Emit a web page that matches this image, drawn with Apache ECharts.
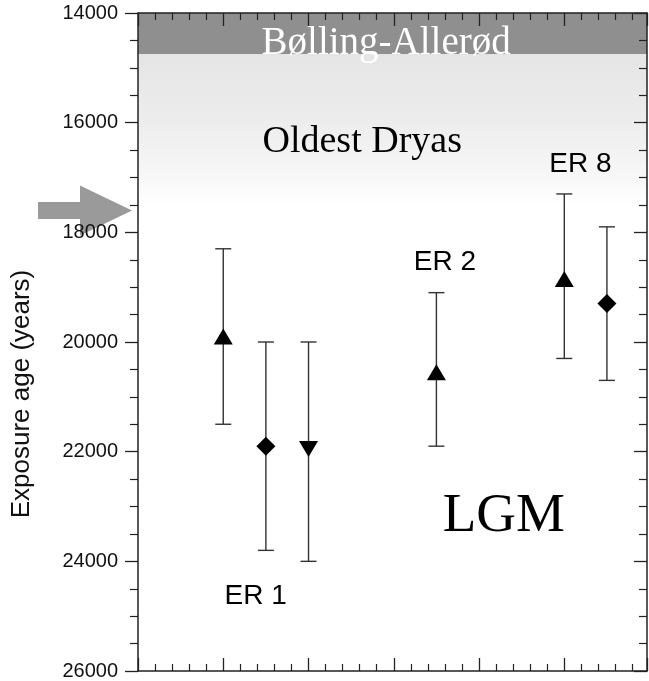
<!DOCTYPE html>
<html>
<head>
<meta charset="utf-8">
<script src="https://cdn.jsdelivr.net/npm/echarts@6/dist/echarts.min.js"></script>
<style>
html,body{margin:0;padding:0;background:#fff;}
#chart{width:649px;height:681px;}
</style>
</head>
<body>
<div id="chart"></div>
<script>
// ---- data ----
const sampleX = [1, 1.5, 2, 3.5, 5, 5.5];
const exposureAge = [19900, 21900, 21950, 20550, 18850, 19300];
const ageYoung = [18300, 20000, 20000, 19100, 17300, 17900];
const ageOld = [21500, 23800, 24000, 21900, 20300, 20700];
const markerShape = ['triangle', 'diamond', 'triangleDown', 'triangle', 'triangle', 'diamond'];

const groupLabels = ['ER 1', 'ER 2', 'ER 8'];
const groupLabelX = [1.38, 3.6, 5.19];
const groupLabelAge = [24630, 18540, 16754];

const periodLabels = ['Bølling-Allerød', 'Oldest Dryas', 'LGM'];
const periodLabelX = [2.91, 2.63, 4.29];
const periodLabelAge = [14560, 16350, 23180];

const bollingAllerod = [14000, 14750];
const oldestDryas = [14750, 17500];
const arrowAge = 17600;

const yTicks = [14000, 16000, 18000, 20000, 22000, 24000, 26000];

// ---- chart ----
const chart = echarts.init(document.getElementById('chart'), null, {renderer: 'canvas'});

const axisLine = {show: true, onZero: false, lineStyle: {color: '#222', width: 1.5}};
const xCommon = {
  type: 'value', min: 0, max: 5.97, interval: 1, z: 10,
  axisLine: axisLine,
  axisTick: {show: true, inside: true, length: 13, lineStyle: {color: '#222', width: 1.3}},
  minorTick: {show: true, splitNumber: 5, length: 7, lineStyle: {color: '#222', width: 1.2}},
  axisLabel: {show: false}, splitLine: {show: false}
};
function yAxisDef(position, showLabel, tickInside) {
  return {
    type: 'value', position: position, inverse: true,
    min: yTicks[0], max: yTicks[yTicks.length - 1], interval: 2000, z: 10,
    axisLine: axisLine,
    axisTick: {show: true, inside: tickInside, length: 13, lineStyle: {color: '#222', width: 1.3}},
    minorTick: {show: true, splitNumber: 4, length: 8, lineStyle: {color: '#222', width: 1.2}},
    splitLine: {show: false},
    axisLabel: {show: showLabel, margin: 20, fontSize: 20, color: '#111',
      fontFamily: 'Liberation Sans, Arial, sans-serif',
      formatter: function (v) { return String(v); }}
  };
}

const markers = sampleX.map((x, i) => {
  const s = markerShape[i];
  return {
    value: [x, exposureAge[i]],
    symbol: s === 'triangleDown' ? 'triangle' : s,
    symbolRotate: s === 'triangleDown' ? 180 : 0,
    symbolSize: s === 'diamond' ? [19, 19] : [19, 16]
  };
});

const option = {
  animation: false,
  backgroundColor: '#fff',
  grid: {left: 138, right: 2, top: 13, bottom: 10, containLabel: false},
  xAxis: [
    Object.assign({position: 'bottom'}, xCommon),
    Object.assign({position: 'top'}, xCommon)
  ],
  yAxis: [yAxisDef('left', true, false), yAxisDef('right', false, true)],
  series: [
    {
      type: 'line', data: [], z: 1, silent: true,
      markArea: {
        silent: true,
        data: [
          [{yAxis: bollingAllerod[0], itemStyle: {color: '#8f8f8f', opacity: 1}}, {yAxis: bollingAllerod[1]}],
          [{yAxis: oldestDryas[0], itemStyle: {opacity: 1, color: new echarts.graphic.LinearGradient(0, 0, 0, 1, [
            {offset: 0, color: '#e5e5e5'}, {offset: 0.45, color: '#ededed'}, {offset: 0.8, color: '#f7f7f7'}, {offset: 1, color: '#ffffff'}])}},
           {yAxis: oldestDryas[1]}]
        ]
      }
    },
    {
      type: 'custom', z: 2, silent: true,
      data: sampleX.map((x, i) => [x, ageYoung[i], ageOld[i]]),
      renderItem: function (params, api) {
        const top = api.coord([api.value(0), api.value(1)]);
        const bot = api.coord([api.value(0), api.value(2)]);
        const hw = 8;
        const style = {stroke: '#333', lineWidth: 1.4};
        return {
          type: 'group',
          children: [
            {type: 'line', shape: {x1: top[0], y1: top[1], x2: bot[0], y2: bot[1]}, style: style},
            {type: 'line', shape: {x1: top[0] - hw, y1: top[1], x2: top[0] + hw, y2: top[1]}, style: style},
            {type: 'line', shape: {x1: bot[0] - hw, y1: bot[1], x2: bot[0] + hw, y2: bot[1]}, style: style}
          ]
        };
      }
    },
    {
      type: 'scatter', z: 3, silent: true,
      itemStyle: {color: '#000', opacity: 1},
      data: markers
    },
    {
      type: 'scatter', z: 4, silent: true, symbolSize: 0,
      itemStyle: {opacity: 1},
      data: groupLabels.map((t, i) => ({name: t, value: [groupLabelX[i], groupLabelAge[i]]})),
      label: {show: true, position: 'inside', formatter: '{b}', fontSize: 28, color: '#000', opacity: 1,
        fontFamily: 'Liberation Sans, Arial, sans-serif'}
    },
    {
      type: 'scatter', z: 4, silent: true, symbolSize: 0,
      itemStyle: {opacity: 1},
      data: periodLabels.map((t, i) => ({
        name: t, value: [periodLabelX[i], periodLabelAge[i]],
        label: i === 0 ? {color: '#fff', fontSize: 39} : (i === 2 ? {fontSize: 55, color: '#000'} : {fontSize: 38, color: '#000'})
      })),
      label: {show: true, position: 'inside', formatter: '{b}', opacity: 1,
        fontFamily: 'Liberation Serif, Times New Roman, serif'}
    }
  ]
};
chart.setOption(option);

const ay = chart.convertToPixel({yAxisIndex: 0}, arrowAge);
chart.setOption({
  graphic: [
    {
      type: 'polygon', silent: true,
      shape: {points: [[38, ay - 8.5], [80, ay - 8.5], [80, ay - 25], [132, ay], [80, ay + 25], [80, ay + 8.5], [38, ay + 8.5]]},
      style: {fill: '#9a9a9a'}
    },
    {
      type: 'text', silent: true, x: 22, y: 394, rotation: Math.PI / 2,
      style: {text: 'Exposure age (years)', fontSize: 26, fill: '#111', align: 'center', verticalAlign: 'middle',
        fontFamily: 'Liberation Sans, Arial, sans-serif'}
    }
  ]
});
</script>
</body>
</html>
